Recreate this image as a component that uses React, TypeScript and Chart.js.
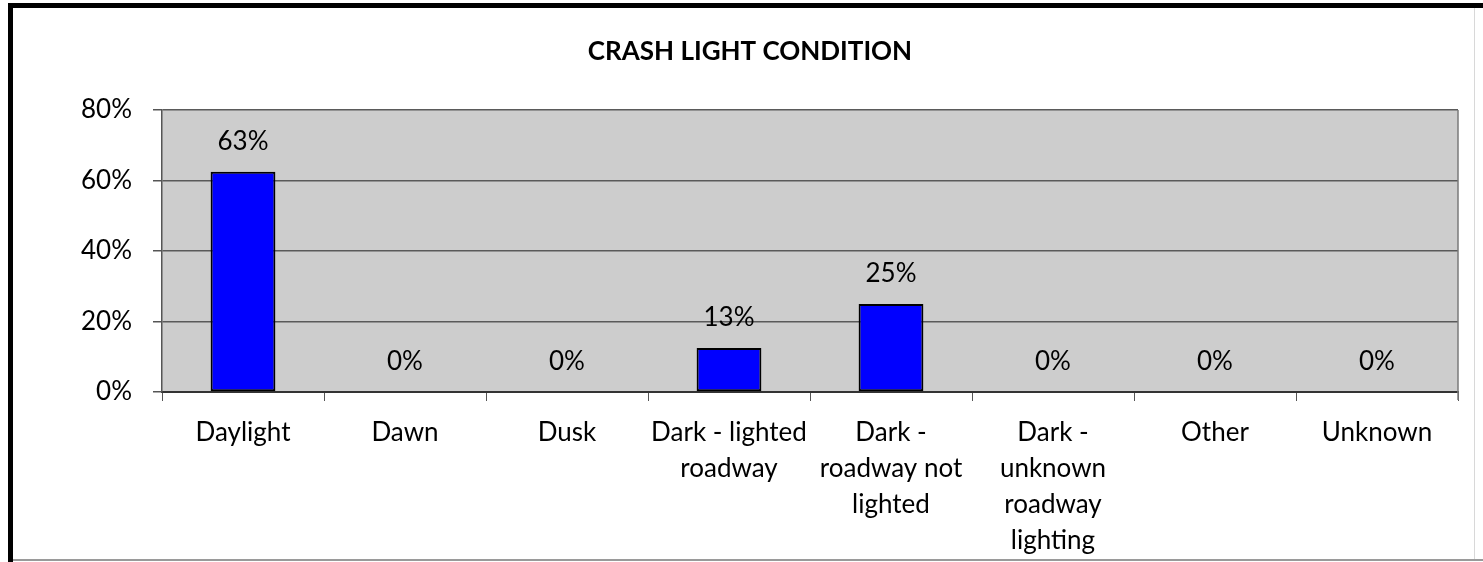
import React, { useEffect, useRef } from "react";
import { Chart, registerables } from "chart.js";

Chart.register(...registerables);

const TITLE = "CRASH LIGHT CONDITION";
const categories: (string | string[])[] = [
  "Daylight",
  "Dawn",
  "Dusk",
  ["Dark - lighted", "roadway"],
  ["Dark -", "roadway not", "lighted"],
  ["Dark -", "unknown", "roadway", "lighting"],
  "Other",
  "Unknown",
];
const values: number[] = [62.5, 0, 0, 12.5, 25, 0, 0, 0];
const yTicks: number[] = [0, 20, 40, 60, 80];

const FONT = "Lato, 'Open Sans', sans-serif";

export default function App() {
  const ref = useRef<HTMLCanvasElement | null>(null);

  useEffect(() => {
    const canvas = ref.current;
    if (!canvas) return;

    const bgPlugin = {
      id: "bgPlugin",
      beforeDraw(chart: any) {
        const { ctx, chartArea: a, width, height } = chart;
        ctx.save();
        ctx.fillStyle = "#ffffff";
        ctx.fillRect(0, 0, width, height);
        ctx.fillStyle = "#cdcdcd";
        ctx.fillRect(a.left, a.top, a.right - a.left, a.bottom - a.top);
        ctx.restore();
      },
      afterDraw(chart: any) {
        const { ctx, chartArea: a } = chart;
        ctx.save();
        // plot right border
        ctx.strokeStyle = "#7a7a7a";
        ctx.lineWidth = 1.5;
        ctx.beginPath();
        ctx.moveTo(a.right, a.top);
        ctx.lineTo(a.right, a.bottom + 8);
        ctx.stroke();
        // outer frame
        ctx.fillStyle = "#000";
        ctx.fillRect(8, 3, 1475, 5);
        ctx.fillRect(8, 3, 5, 559);
        ctx.fillStyle = "#9a9a9a";
        ctx.fillRect(13, 559, 1470, 2);
        ctx.fillStyle = "#d8d8d8";
        ctx.fillRect(1474, 8, 1, 551);
        // title
        ctx.fillStyle = "#000";
        ctx.font = `bold 26px ${FONT}`;
        ctx.textAlign = "center";
        ctx.textBaseline = "alphabetic";
        ctx.fillText(TITLE, 750, 60);
        ctx.restore();
      },
    };

    const labelPlugin = {
      id: "labelPlugin",
      afterDatasetsDraw(chart: any) {
        const { ctx } = chart;
        const meta = chart.getDatasetMeta(0);
        ctx.save();
        ctx.fillStyle = "#000";
        ctx.font = `26px ${FONT}`;
        ctx.textAlign = "center";
        ctx.textBaseline = "alphabetic";
        meta.data.forEach((el: any, i: number) => {
          const v = values[i];
          ctx.fillText(`${Math.round(v)}%`, el.x, el.y - 22);
        });
        ctx.restore();
      },
    };

    const chart = new Chart(canvas, {
      type: "bar",
      data: {
        labels: categories,
        datasets: [
          {
            data: values,
            backgroundColor: "#0000ff",
            borderColor: "#000000",
            borderWidth: 2,
            borderSkipped: false,
            categoryPercentage: 1,
            barPercentage: 0.4,
          },
        ],
      },
      options: {
        responsive: false,
        animation: false,
        devicePixelRatio: 1,
        layout: { padding: { top: 110, right: 25, left: 0, bottom: 0 } },
        plugins: {
          legend: { display: false },
          title: { display: false },
          tooltip: { enabled: false },
        },
        scales: {
          x: {
            grid: {
              display: true,
              drawOnChartArea: false,
              drawTicks: true,
              tickLength: 9,
              offset: true,
              color: "#555",
              lineWidth: 1,
            },
            border: { display: true, color: "#333", width: 2 },
            ticks: {
              autoSkip: false,
              maxRotation: 0,
              minRotation: 0,
              padding: 14,
              color: "#000",
              font: { family: FONT, size: 26, lineHeight: "36px" },
            },
            afterFit(scale: any) {
              scale.height = 170;
            },
          },
          y: {
            min: 0,
            max: 80,
            afterBuildTicks(scale: any) {
              scale.ticks = yTicks.map((v) => ({ value: v }));
            },
            grid: {
              color: "#5a5a5a",
              lineWidth: 1.5,
              drawTicks: true,
              tickLength: 9,
              tickColor: "#555",
            },
            border: { display: true, color: "#555", width: 1.5 },
            ticks: {
              padding: 21,
              color: "#000",
              font: { family: FONT, size: 26 },
              callback: (v: any) => `${v}%`,
            },
            afterFit(scale: any) {
              scale.width = 162;
            },
          },
        },
      },
      plugins: [bgPlugin, labelPlugin],
    });

    return () => chart.destroy();
  }, []);

  return (
    <div style={{ position: "absolute", left: 0, top: 0, width: 1483, height: 562, background: "#fff" }}>
      <canvas ref={ref} width={1483} height={562} style={{ display: "block" }} />
    </div>
  );
}
